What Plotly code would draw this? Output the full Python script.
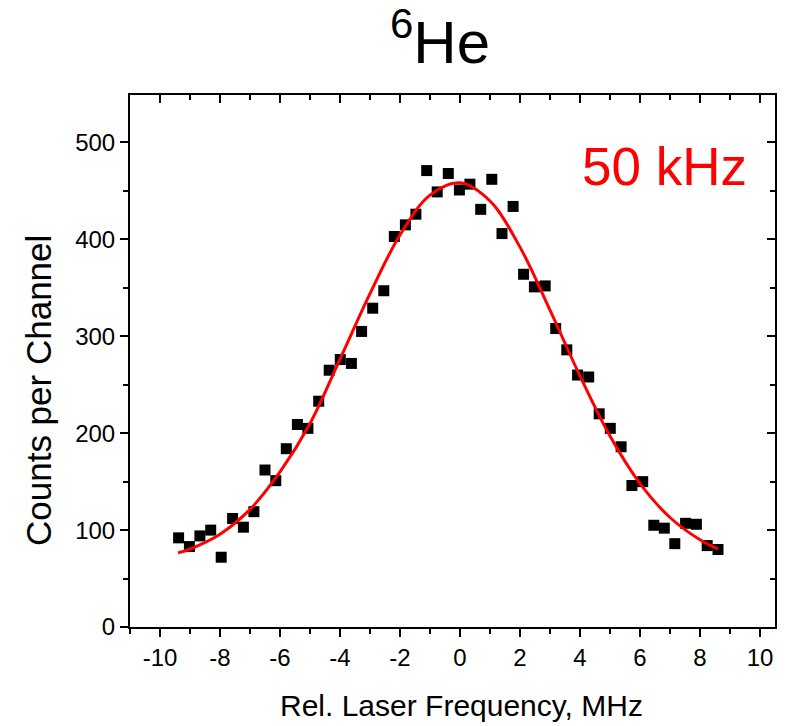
import plotly.graph_objects as go

# Measured data points (Rel. laser frequency in MHz, counts per channel)
freq_mhz = [-9.38, -9.02, -8.67, -8.31, -7.96, -7.58, -7.22, -6.87, -6.50, -6.14,
            -5.79, -5.42, -5.07, -4.71, -4.36, -3.99, -3.62, -3.28, -2.91, -2.54,
            -2.19, -1.82, -1.47, -1.11, -0.76, -0.39, -0.02, 0.33, 0.69, 1.06,
            1.40, 1.77, 2.12, 2.48, 2.84, 3.19, 3.56, 3.92, 4.29, 4.64,
            5.01, 5.37, 5.73, 6.09, 6.46, 6.81, 7.16, 7.52, 7.88, 8.24, 8.60]
counts = [92, 83, 94, 100, 72, 112, 103, 119, 162, 151,
          184, 209, 205, 233, 265, 276, 272, 305, 329, 347,
          403, 415, 426, 471, 449, 468, 451, 457, 431, 462,
          406, 434, 364, 351, 352, 308, 286, 260, 258, 220,
          205, 186, 146, 150, 105, 102, 86, 107, 106, 84, 80]

# Fit curve
fit_x = [-9.4, -9.0, -8.0, -7.0, -6.0, -5.0, -4.0, -3.0, -2.0, -1.0,
         0.0, 1.0, 2.0, 3.0, 4.0, 5.0, 6.0, 7.0, 8.0, 8.6]
fit_y = [76.5, 80.5, 95.8, 121.4, 160.0, 210.0, 276.5, 344.0, 404.6, 445.7,
         458.4, 439.6, 392.0, 327.0, 259.0, 197.0, 148.0, 113.0, 90.0, 80.5]

x_ticks = [-10, -8, -6, -4, -2, 0, 2, 4, 6, 8, 10]
x_tick_text = ["-10", "-8", "-6", "-4", "-2", "0", "2", "4", "6", "8", "10"]
y_ticks = [0, 100, 200, 300, 400, 500]
y_tick_text = ["0", "100", "200", "300", "400", "500"]

FONT = "Arial, Liberation Sans, sans-serif"
X_RANGE = [-11, 10.5]
Y_RANGE = [0, 549]

W, H = 786, 726
OFF = 8  # page body margin offset
PL, PR, PT, PB = 130, 775, 95, 627  # target plot area in page pixels


def px_x(p):
    return (p - PL) / (PR - PL)


def px_y(p):
    return (PB - p) / (PB - PT)


fig = go.Figure()
fig.add_trace(go.Scatter(
    x=freq_mhz, y=counts, mode="markers",
    marker=dict(symbol="square", size=11, color="black", line=dict(width=0)),
    showlegend=False,
))
fig.add_trace(go.Scatter(
    x=fit_x, y=fit_y, mode="lines", line=dict(color="#ff0000", width=3, shape="spline"),
    xaxis="x2", yaxis="y2", showlegend=False,
))

axis_common = dict(showgrid=False, zeroline=False, showline=True, linecolor="black",
                   linewidth=2, tickcolor="black", tickwidth=2, automargin=False,
                   tickfont=dict(family=FONT, size=24, color="black"))

fig.update_layout(
    width=W, height=H,
    paper_bgcolor="white", plot_bgcolor="white",
    margin=dict(l=PL - OFF, r=W - PR + OFF, t=PT - OFF, b=H - PB + OFF),
    title=dict(text="<sup>6</sup>He", x=(440 - OFF) / W, xanchor="center",
               y=1 - (42 - OFF) / H, yanchor="middle", yref="container",
               font=dict(family=FONT, size=60, color="black")),
    xaxis=dict(range=X_RANGE, tickvals=x_ticks, ticktext=x_tick_text,
               ticks="outside", ticklen=8,
               minor=dict(ticks="outside", ticklen=5, dtick=1, tick0=0,
                          tickcolor="black", tickwidth=2),
               **axis_common),
    yaxis=dict(range=Y_RANGE, tickvals=y_ticks, ticktext=y_tick_text,
               ticks="outside", ticklen=8,
               minor=dict(ticks="outside", ticklen=5, dtick=50, tick0=0,
                          tickcolor="black", tickwidth=2),
               **axis_common),
    xaxis2=dict(range=X_RANGE, overlaying="x", side="top", tickvals=x_ticks,
                ticks="inside", ticklen=8, showticklabels=False,
                minor=dict(ticks="inside", ticklen=5, dtick=1, tick0=0,
                           tickcolor="black", tickwidth=2),
                **axis_common),
    yaxis2=dict(range=Y_RANGE, overlaying="y", side="right", tickvals=y_ticks,
                ticks="inside", ticklen=8, showticklabels=False,
                minor=dict(ticks="inside", ticklen=5, dtick=50, tick0=0,
                           tickcolor="black", tickwidth=2),
                **axis_common),
    annotations=[
        dict(text="50 kHz", xref="paper", yref="paper", x=px_x(664),
             y=px_y(166), xanchor="center", yanchor="middle", showarrow=False,
             font=dict(family=FONT, size=53, color="#ff0000")),
        dict(text="Counts per Channel", xref="paper", yref="paper",
             x=px_x(38), y=px_y(391), textangle=-90,
             xanchor="center", yanchor="middle", showarrow=False,
             font=dict(family=FONT, size=35, color="black")),
        dict(text="Rel. Laser Frequency, MHz", xref="paper", yref="paper",
             x=px_x(461), y=px_y(705), xanchor="center",
             yanchor="middle", showarrow=False,
             font=dict(family=FONT, size=30, color="black")),
    ],
)

fig.write_html("out.html")
